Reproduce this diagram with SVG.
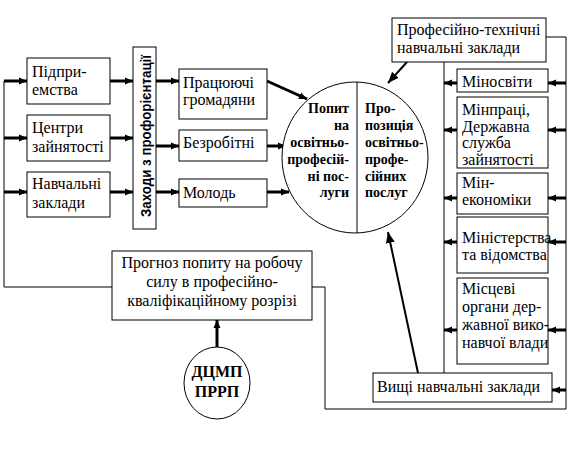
<svg xmlns="http://www.w3.org/2000/svg" width="575" height="449" viewBox="0 0 575 449">
<style>
  .box{fill:#fff;stroke:#000;stroke-width:1}
  .t{font-family:"Liberation Serif","DejaVu Serif",serif;font-size:16px;fill:#000}
  .tb{font-family:"Liberation Serif","DejaVu Serif",serif;font-size:14px;font-weight:bold;fill:#000}
  .tc{font-family:"Liberation Serif","DejaVu Serif",serif;font-size:16px;font-weight:bold;fill:#000}
  .ts{font-family:"Liberation Sans","DejaVu Sans",sans-serif;font-size:15px;font-weight:bold;fill:#000}
  .thin{fill:none;stroke:#000;stroke-width:1}
  .thick{fill:none;stroke:#000;stroke-width:3;marker-end:url(#ah)}
  .mid{fill:none;stroke:#000;stroke-width:2;marker-end:url(#ah2)}
</style>
<defs>
  <marker id="ah" markerUnits="userSpaceOnUse" markerWidth="9" markerHeight="8" refX="8" refY="4" orient="auto">
    <path d="M0,0.5 L8,4 L0,7.5 z" fill="#000"/>
  </marker>
  <marker id="ah2" markerUnits="userSpaceOnUse" markerWidth="12" markerHeight="10" refX="11" refY="5" orient="auto">
    <path d="M0,0.5 L11,5 L0,9.5 z" fill="#000"/>
  </marker>
</defs>
<rect width="575" height="449" fill="#fff"/>

<g id="connectors">
  <polyline class="thin" points="112,287 4,287 4,81"/>
  <line class="thick" x1="4" y1="81" x2="27" y2="81"/>
  <line class="thick" x1="4" y1="138" x2="27" y2="138"/>
  <line class="thick" x1="4" y1="192" x2="27" y2="192"/>
  <line class="thick" x1="110" y1="81" x2="133" y2="81"/>
  <line class="thick" x1="110" y1="138" x2="133" y2="138"/>
  <line class="thick" x1="110" y1="192" x2="133" y2="192"/>
  <line class="thick" x1="156" y1="81" x2="179" y2="81"/>
  <line class="thick" x1="156" y1="146" x2="179" y2="146"/>
  <line class="thick" x1="156" y1="192" x2="179" y2="192"/>
  <line class="thick" x1="267" y1="81" x2="307" y2="99"/>
  <line class="thick" x1="267" y1="146" x2="286" y2="146"/>
  <line class="thick" x1="267" y1="192" x2="289" y2="192"/>
  <line class="mid" x1="407" y1="62" x2="388" y2="83"/>
  <line class="mid" x1="418" y1="373" x2="388" y2="232"/>
  <line class="thick" x1="217" y1="347" x2="217" y2="320"/>
  <line class="thin" x1="444" y1="62" x2="444" y2="373"/>
  <polyline class="thin" points="546,37 566,37 566,409 325,409 325,287 312,287"/>
  <line class="thick" x1="566" y1="83" x2="548" y2="83"/>
  <line class="thick" x1="566" y1="130" x2="548" y2="130"/>
  <line class="thick" x1="566" y1="198" x2="548" y2="198"/>
  <line class="thick" x1="566" y1="242" x2="548" y2="242"/>
  <line class="thick" x1="566" y1="330" x2="548" y2="330"/>
  <line class="thick" x1="566" y1="390" x2="552" y2="390"/>
  <line class="thick" x1="457" y1="83" x2="444" y2="83"/>
  <line class="thick" x1="457" y1="130" x2="444" y2="130"/>
  <line class="thick" x1="457" y1="198" x2="444" y2="198"/>
  <line class="thick" x1="457" y1="242" x2="444" y2="242"/>
  <line class="thick" x1="457" y1="330" x2="444" y2="330"/>
</g>

<g id="pidpryiemstva">
  <rect class="box" x="27" y="58" width="83" height="46"/>
  <text class="t" x="32" y="77">Підпри-</text>
  <text class="t" x="32" y="95">емства</text>
</g>
<g id="tsentry">
  <rect class="box" x="27" y="115" width="83" height="46"/>
  <text class="t" x="32" y="133">Центри</text>
  <text class="t" x="32" y="152">зайнятості</text>
</g>
<g id="navchalni">
  <rect class="box" x="27" y="172" width="83" height="45"/>
  <text class="t" x="32" y="189">Навчальні</text>
  <text class="t" x="32" y="208">заклади</text>
</g>
<g id="zakhody">
  <rect class="box" x="133" y="47" width="23" height="182"/>
  <text class="ts" transform="translate(151,136) rotate(-90)" text-anchor="middle" textLength="162" lengthAdjust="spacingAndGlyphs">Заходи з профорієнтації</text>
</g>
<g id="pratsiuiuchi">
  <rect class="box" x="179" y="69" width="88" height="50"/>
  <text class="t" x="183" y="88">Працюючі</text>
  <text class="t" x="183" y="105">громадяни</text>
</g>
<g id="bezrobitni">
  <rect class="box" x="179" y="130" width="88" height="31"/>
  <text class="t" x="183" y="148">Безробітні</text>
</g>
<g id="molod">
  <rect class="box" x="179" y="179" width="88" height="28"/>
  <text class="t" x="183" y="198">Молодь</text>
</g>
<g id="market">
  <ellipse class="box" cx="355" cy="157.5" rx="73" ry="75.5"/>
  <line class="thin" x1="357" y1="82" x2="357" y2="233"/>
  <g class="tb" text-anchor="end">
    <text x="349" y="113">Попит</text>
    <text x="349" y="130">на</text>
    <text x="349" y="147">освітньо-</text>
    <text x="349" y="164">професій-</text>
    <text x="349" y="180.5">ні пос-</text>
    <text x="349" y="197">луги</text>
  </g>
  <g class="tb">
    <text x="365" y="113">Про-</text>
    <text x="365" y="130">позиція</text>
    <text x="365" y="147">освітньо-</text>
    <text x="365" y="164">профе-</text>
    <text x="365" y="180.5">сійних</text>
    <text x="365" y="197">послуг</text>
  </g>
</g>
<g id="proftekh">
  <rect class="box" x="392" y="18" width="154" height="44"/>
  <text class="t" x="397" y="35">Професійно-технічні</text>
  <text class="t" x="397" y="53">навчальні заклади</text>
</g>
<g id="minosvity">
  <rect class="box" x="457" y="69" width="91" height="23"/>
  <text class="t" x="462" y="87">Міносвіти</text>
</g>
<g id="minpratsi">
  <rect class="box" x="457" y="97" width="91" height="71"/>
  <text class="t" x="462" y="115">Мінпраці,</text>
  <text class="t" x="462" y="131.5">Державна</text>
  <text class="t" x="462" y="148">служба</text>
  <text class="t" x="462" y="164.5">зайнятості</text>
</g>
<g id="minekonomiky">
  <rect class="box" x="457" y="173" width="91" height="41"/>
  <text class="t" x="462" y="188">Мін-</text>
  <text class="t" x="462" y="205">економіки</text>
</g>
<g id="ministerstva">
  <rect class="box" x="457" y="217" width="91" height="56"/>
  <text class="t" x="462" y="243">Міністерства</text>
  <text class="t" x="462" y="260">та відомства</text>
</g>
<g id="mistsevi">
  <rect class="box" x="457" y="278" width="91" height="86"/>
  <text class="t" x="462" y="294">Місцеві</text>
  <text class="t" x="462" y="312">органи дер-</text>
  <text class="t" x="462" y="330">жавної вико-</text>
  <text class="t" x="462" y="348">навчої влади</text>
</g>
<g id="vyshchi">
  <rect class="box" x="373" y="373" width="179" height="29"/>
  <text class="t" x="377" y="392">Вищі навчальні заклади</text>
</g>
<g id="prohnoz">
  <rect class="box" x="112" y="251" width="200" height="69"/>
  <text class="t" x="212" y="268" text-anchor="middle">Прогноз попиту на робочу</text>
  <text class="t" x="212" y="287" text-anchor="middle">силу в професійно-</text>
  <text class="t" x="212" y="306" text-anchor="middle">кваліфікаційному розрізі</text>
</g>
<g id="dtsmp">
  <ellipse class="box" cx="217" cy="383" rx="33" ry="36"/>
  <text class="tc" x="217" y="377" text-anchor="middle">ДЦМП</text>
  <text class="tc" x="217" y="397" text-anchor="middle">ПРРП</text>
</g>
</svg>
